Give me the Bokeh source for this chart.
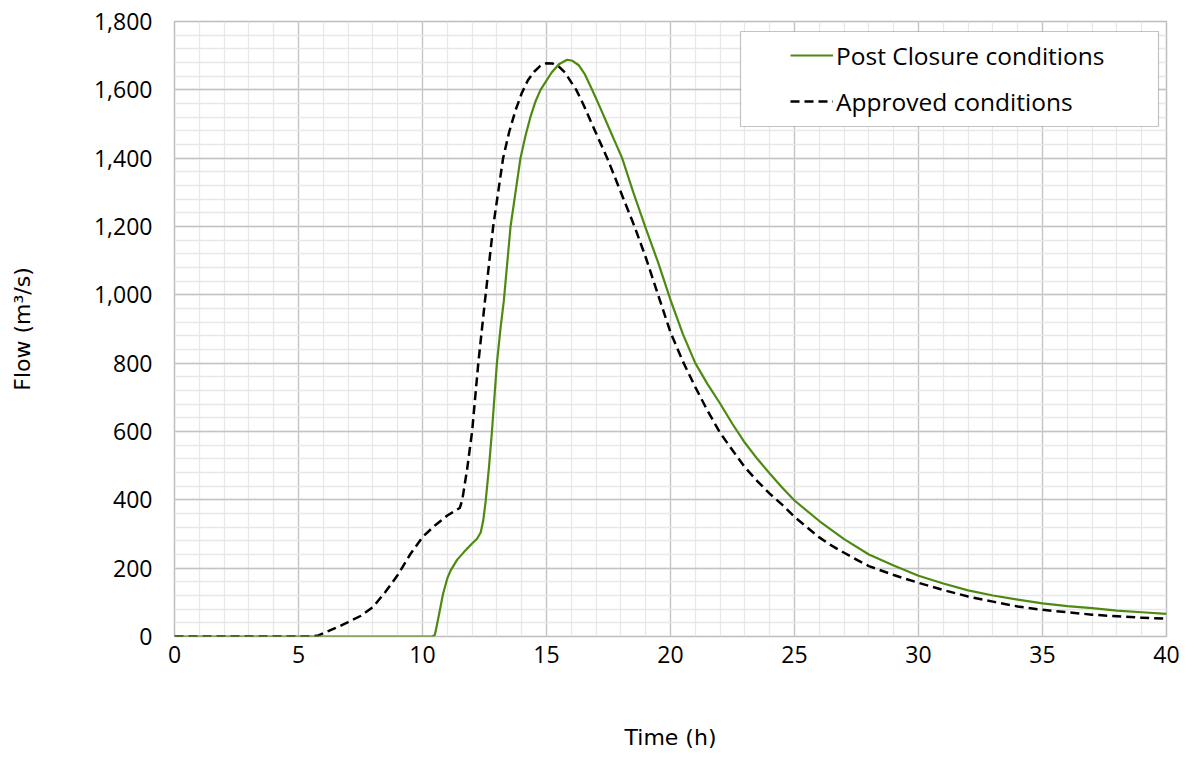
from bokeh.plotting import figure
from bokeh.models import (FixedTicker, NumeralTickFormatter, Legend, LegendItem,
                          BoxAnnotation, ColumnDataSource)
from bokeh.embed import file_html
from bokeh.resources import INLINE

# ---- data ----
approved_t = [0, 5.5, 5.8, 6.5, 7.0, 7.5, 8.0, 8.5, 9.0, 9.5, 10.0, 10.5, 11.0, 11.5,
              11.6, 11.8, 12.0, 12.25, 12.5, 12.85, 13.25, 13.5, 13.75, 14.0, 14.25,
              14.5, 14.75, 15.0, 15.25, 15.5, 15.75, 16.0, 16.2, 16.5, 16.8, 17.45,
              18.0, 18.55, 19.0, 19.5, 20.0, 20.5, 21.0, 21.5, 22.0, 22.5, 23.0, 23.5,
              24.0, 24.5, 25.0, 25.5, 26.0, 26.5, 27.0, 27.5, 28.0, 29.0, 30.0, 31.0,
              32.0, 33.0, 34.0, 35.0, 36.0, 37.0, 38.0, 39.0, 40.0]
approved_q = [0, 0, 3, 25, 42, 60, 86, 130, 180, 240, 291, 325, 354, 376,
              398, 490, 600, 800, 970, 1200, 1400, 1478, 1540, 1590, 1628,
              1653, 1670, 1678, 1677, 1668, 1650, 1622, 1600, 1555, 1505, 1400,
              1300, 1200, 1110, 1000, 890, 805, 730, 660, 596, 545, 495, 455,
              418, 386, 350, 320, 290, 266, 245, 225, 206, 180, 157, 136,
              117, 102, 88, 78, 71, 64, 59, 55, 52]

post_t = [0, 10.4, 10.5, 10.6, 10.83, 11.0, 11.13, 11.4, 11.67, 12.0, 12.2, 12.35,
          12.45, 12.55, 12.68, 12.8, 13.0, 13.15, 13.28, 13.55, 13.95, 14.15, 14.35,
          14.55, 14.76, 15.2, 15.5, 15.83, 16.05, 16.3, 16.55, 16.84, 17.15, 17.45,
          17.75, 18.05, 18.5, 19.0, 19.5, 20.0, 20.5, 21.0, 21.5, 22.0, 22.5, 23.0,
          23.5, 24.0, 24.5, 25.0, 26.0, 27.0, 28.0, 29.0, 30.0, 31.0, 32.0, 33.0,
          34.0, 35.0, 36.0, 37.0, 38.0, 39.0, 40.0]
post_q = [0, 0, 5, 40, 125, 170, 193, 225, 247, 272, 286, 305,
          340, 398, 495, 600, 800, 905, 983, 1200, 1400, 1465, 1520,
          1565, 1600, 1650, 1675, 1688, 1685, 1672, 1645, 1600, 1550, 1500,
          1450, 1400, 1300, 1195, 1095, 985, 885, 800, 738, 682, 622, 567,
          520, 477, 436, 398, 338, 285, 240, 208, 178, 155, 135, 120,
          108, 97, 89, 83, 76, 71, 66]

x_ticks = [0, 5, 10, 15, 20, 25, 30, 35, 40]
x_minor = list(range(0, 41))
y_ticks = list(range(0, 1801, 200))
y_minor = list(range(0, 1801, 40))

labels = ["Post Closure conditions", "Approved conditions"]

TICK_FONT = "Open Sans"
LABEL_FONT = "DejaVu Sans"
GREEN = "#4E8A12"

p = figure(width=1180, height=754, x_range=(0, 40), y_range=(0, 1800),
           output_backend="svg", toolbar_location=None,
           min_border_left=174, min_border_right=14, min_border_top=21,
           min_border_bottom=118)

p.outline_line_color = "#BDBDBD"
p.outline_line_width = 1.5

p.xaxis.ticker = FixedTicker(ticks=x_ticks, minor_ticks=x_minor)
p.yaxis.ticker = FixedTicker(ticks=y_ticks, minor_ticks=y_minor)
p.yaxis.formatter = NumeralTickFormatter(format="0,0")

for ax in (p.xaxis[0], p.yaxis[0]):
    ax.axis_line_color = None
    ax.major_tick_line_color = None
    ax.minor_tick_line_color = None
    ax.major_label_text_font = TICK_FONT
    ax.major_label_text_font_size = "23px"
    ax.major_label_text_color = "#000000"
    ax.axis_label_text_font = LABEL_FONT
    ax.axis_label_text_font_size = "22px"
    ax.axis_label_text_font_style = "normal"
    ax.axis_label_text_color = "#000000"

p.xaxis.axis_label = "Time (h)"
p.yaxis.axis_label = "Flow (m³/s)"
p.xaxis.major_label_standoff = 3
p.yaxis.major_label_standoff = 16
p.xaxis.axis_label_standoff = 59
p.yaxis.axis_label_standoff = 56

for g in (p.xgrid[0], p.ygrid[0]):
    g.grid_line_color = "#C4C4C4"
    g.grid_line_width = 1.3
    g.minor_grid_line_color = "#E8E8E8"
    g.minor_grid_line_width = 1.3

src_a = ColumnDataSource(dict(t=approved_t, q=approved_q))
src_p = ColumnDataSource(dict(t=post_t, q=post_q))

r_app = p.line("t", "q", source=src_a, line_color="#000000", line_width=2.5,
               line_dash="9 5", line_join="round")
r_post = p.line("t", "q", source=src_p, line_color=GREEN, line_width=2.2,
                line_join="round")

# legend frame
box = BoxAnnotation(left=740, right=1158, top=31, bottom=126,
                    left_units="canvas", right_units="canvas",
                    top_units="canvas", bottom_units="canvas",
                    fill_color="white", fill_alpha=1.0,
                    line_color="#3A3A3A", line_width=1.2, level="annotation")
p.add_layout(box)

legend = Legend(items=[LegendItem(label=labels[0], renderers=[r_post]),
                       LegendItem(label=labels[1], renderers=[r_app])],
                location=(616, 515), padding=0, spacing=6,
                glyph_width=43, glyph_height=40, label_height=40,
                label_standoff=3, label_text_font=TICK_FONT,
                label_text_font_size="24.5px", label_text_color="#000000",
                border_line_color=None, background_fill_alpha=0.0)
p.add_layout(legend)

open("out.html", "w").write(file_html(p, INLINE))
